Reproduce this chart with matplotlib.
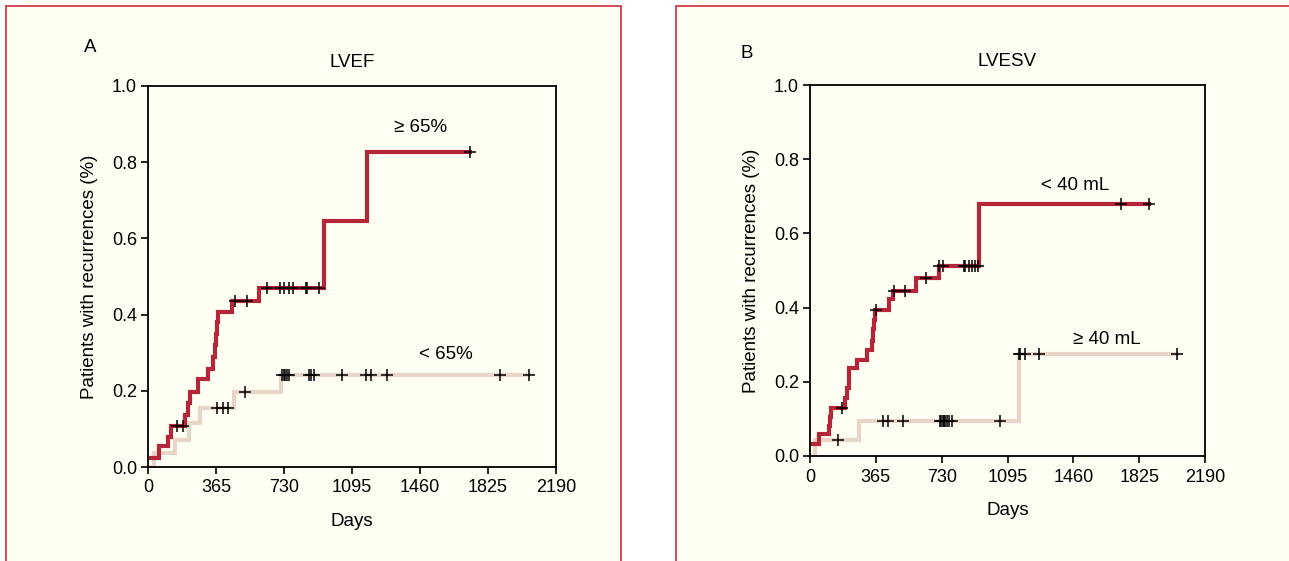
import numpy as np
import matplotlib.pyplot as plt
from matplotlib.patches import Rectangle

plt.rcParams['font.family'] = ['Liberation Sans Narrow', 'Liberation Sans', 'DejaVu Sans']

# Panel A - LVEF
a_hi_t = [0, 59, 108, 126, 198, 213, 225, 270, 324, 351, 358, 364, 370, 376, 450, 595, 944, 1177]
a_hi_y = [0.023, 0.054, 0.080, 0.108, 0.137, 0.167, 0.197, 0.230, 0.258, 0.289, 0.320, 0.350, 0.380, 0.406, 0.437, 0.471, 0.646, 0.828]
a_hi_end = 1729
a_hi_cens = [153, 189, 468, 531, 639, 710, 732, 755, 779, 849, 854, 920, 1729]

a_lo_t = [0, 32, 144, 222, 279, 463, 712]
a_lo_y = [0.0, 0.037, 0.071, 0.115, 0.154, 0.197, 0.241]
a_lo_end = 2043
a_lo_cens = [369, 402, 432, 519, 721, 728, 735, 745, 757, 865, 874, 892, 1044, 1168, 1195, 1281, 1889, 2043]

# Panel B - LVESV
b_lo_t = [0, 51, 103, 112, 118, 193, 206, 215, 262, 318, 343, 350, 356, 362, 440, 462, 590, 717, 937]
b_lo_y = [0.031, 0.058, 0.080, 0.105, 0.129, 0.156, 0.182, 0.236, 0.260, 0.286, 0.311, 0.342, 0.366, 0.393, 0.422, 0.446, 0.480, 0.511, 0.678]
b_lo_end = 1881
b_lo_cens = [178, 365, 468, 524, 642, 717, 736, 852, 862, 880, 898, 916, 930, 1722, 1881]

b_hi_t = [0, 28, 272, 1159]
b_hi_y = [0.0, 0.044, 0.093, 0.274]
b_hi_end = 2033
b_hi_cens = [154, 406, 431, 515, 721, 728, 735, 742, 750, 758, 770, 787, 1052, 1159, 1164, 1192, 1268, 2033]

x_ticks = [0, 365, 730, 1095, 1460, 1825, 2190]
y_ticks = [0.0, 0.2, 0.4, 0.6, 0.8, 1.0]

RED = '#b52638'
BEIGE = '#e7d6c8'
CREAM = '#fffff4'
FRAME = '#d23c48'
FS = 13

fig = plt.figure(figsize=(12.89, 5.61), dpi=100)
fig.patch.set_facecolor('white')

for x0, x1 in [(6, 621), (676, 1300)]:
    fig.patches.append(Rectangle((x0 / 1289, -0.1), (x1 - x0) / 1289, 1.1 - 6 / 561,
                                 transform=fig.transFigure, facecolor=CREAM,
                                 edgecolor=FRAME, linewidth=1.3, zorder=-1))


def km(ax, t, y, end, cens, color):
    tt = list(t) + [end]
    yy = list(y) + [y[-1]]
    ax.step(tt, yy, where='post', color=color, lw=3.0, solid_joinstyle='miter', zorder=2)
    idx = np.searchsorted(t, cens, side='right') - 1
    ax.plot(cens, np.array(y)[idx], ls='none', marker='+', color='black',
            ms=8, mew=1.1, zorder=3)


def setup(ax, title):
    ax.set_facecolor(CREAM)
    ax.set_xlim(0, 2190)
    ax.set_ylim(0, 1.0)
    ax.set_xticks(x_ticks)
    ax.set_xticklabels([str(v) for v in x_ticks])
    ax.set_yticks(y_ticks)
    ax.set_yticklabels([f'{v:.1f}' for v in y_ticks])
    ax.tick_params(labelsize=FS, length=5, width=1.2, direction='out', color='black')
    ax.tick_params(axis='y', pad=3)
    ax.tick_params(axis='x', pad=4)
    for s in ax.spines.values():
        s.set_linewidth(1.3)
    ax.set_xlabel('Days', fontsize=FS + 0.5, labelpad=12)
    ax.set_ylabel('Patients with recurrences (%)', fontsize=FS + 0.5, labelpad=10)
    ax.set_title(title, fontsize=FS + 0.5, pad=14)


axA = fig.add_axes([148 / 1289, 1 - 467 / 561, 408 / 1289, 381 / 561])
setup(axA, 'LVEF')
km(axA, a_lo_t, a_lo_y, a_lo_end, a_lo_cens, BEIGE)
km(axA, a_hi_t, a_hi_y, a_hi_end, a_hi_cens, RED)
axA.text(1464, 0.89, '≥ 65%', fontsize=FS + 0.5, ha='center', va='center')
axA.text(1598, 0.294, '< 65%', fontsize=FS + 0.5, ha='center', va='center')
fig.text(90 / 1289, 1 - 47 / 561, 'A', fontsize=FS + 0.5, ha='center', va='center')

axB = fig.add_axes([810 / 1289, 1 - 456 / 561, 395 / 1289, 371 / 561])
setup(axB, 'LVESV')
km(axB, b_hi_t, b_hi_y, b_hi_end, b_hi_cens, BEIGE)
km(axB, b_lo_t, b_lo_y, b_lo_end, b_lo_cens, RED)
axB.text(1469, 0.73, '< 40 mL', fontsize=FS + 0.5, ha='center', va='center')
axB.text(1646, 0.313, '≥ 40 mL', fontsize=FS + 0.5, ha='center', va='center')
fig.text(747 / 1289, 1 - 53 / 561, 'B', fontsize=FS + 0.5, ha='center', va='center')

fig.savefig('out.png', dpi=100)
